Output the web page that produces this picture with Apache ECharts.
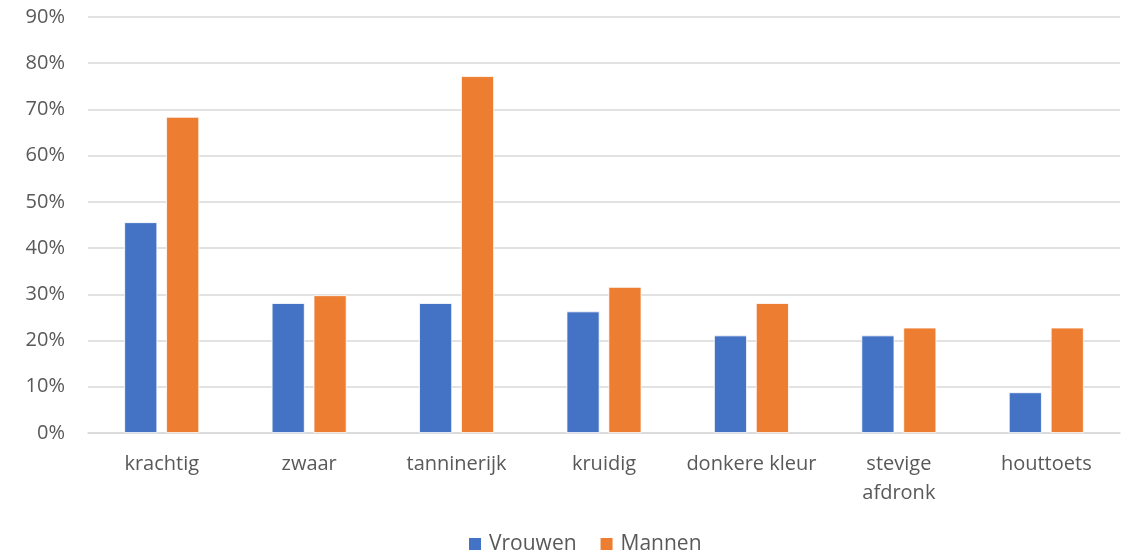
<!DOCTYPE html>
<html><head><meta charset="utf-8">
<script src="https://cdn.jsdelivr.net/npm/echarts@6/dist/echarts.min.js"></script>
<style>html,body{margin:0;padding:0;background:#fff}#c{width:1133px;height:559px}</style>
</head><body><div id="c"></div>
<script>
const categories = ['krachtig', 'zwaar', 'tanninerijk', 'kruidig', 'donkere kleur', 'stevige\nafdronk', 'houttoets'];
const vrouwen = [45.6, 28.1, 28.1, 26.3, 21.1, 21.1, 8.8];
const mannen = [68.4, 29.8, 77.2, 31.6, 28.1, 22.8, 22.8];
const yTicks = [0, 10, 20, 30, 40, 50, 60, 70, 80, 90];

const txt = '#595959';
const font = 'Open Sans';
const chart = echarts.init(document.getElementById('c'), null, {renderer: 'canvas'});
chart.setOption({
  animation: false,
  grid: {left: 88, right: 13, top: 17, bottom: 126, containLabel: false},
  legend: {
    top: 533, left: 467, padding: 0,
    itemWidth: 14, itemHeight: 14, itemGap: 22,
    icon: 'rect',
    textStyle: {color: txt, fontSize: 21, fontFamily: font, padding: [0,0,0,2], lineHeight: 22},
    data: ['Vrouwen', 'Mannen']
  },
  xAxis: {
    type: 'category', data: categories,
    axisLine: {lineStyle: {color: '#d9d9d9', width: 1.5}},
    axisTick: {show: false},
    axisLabel: {color: txt, fontSize: 20, fontFamily: font, margin: 17, lineHeight: 29, interval: 0}
  },
  yAxis: {
    type: 'value', min: yTicks[0], max: yTicks[yTicks.length - 1], interval: 10,
    axisLine: {show: false}, axisTick: {show: false},
    splitLine: {lineStyle: {color: '#d9d9d9', width: 1.5}},
    axisLabel: {color: txt, fontSize: 20, fontFamily: font, margin: 23, formatter: v => v + '%'}
  },
  series: [
    {name: 'Vrouwen', type: 'bar', data: vrouwen, barWidth: 33, barGap: '27%',
     itemStyle: {color: '#4472C4', borderColor: '#ffffff', borderWidth: 0.8}},
    {name: 'Mannen', type: 'bar', data: mannen, barWidth: 33, barGap: '27%',
     itemStyle: {color: '#ED7D31', borderColor: '#ffffff', borderWidth: 0.8}}
  ]
});
</script></body></html>
